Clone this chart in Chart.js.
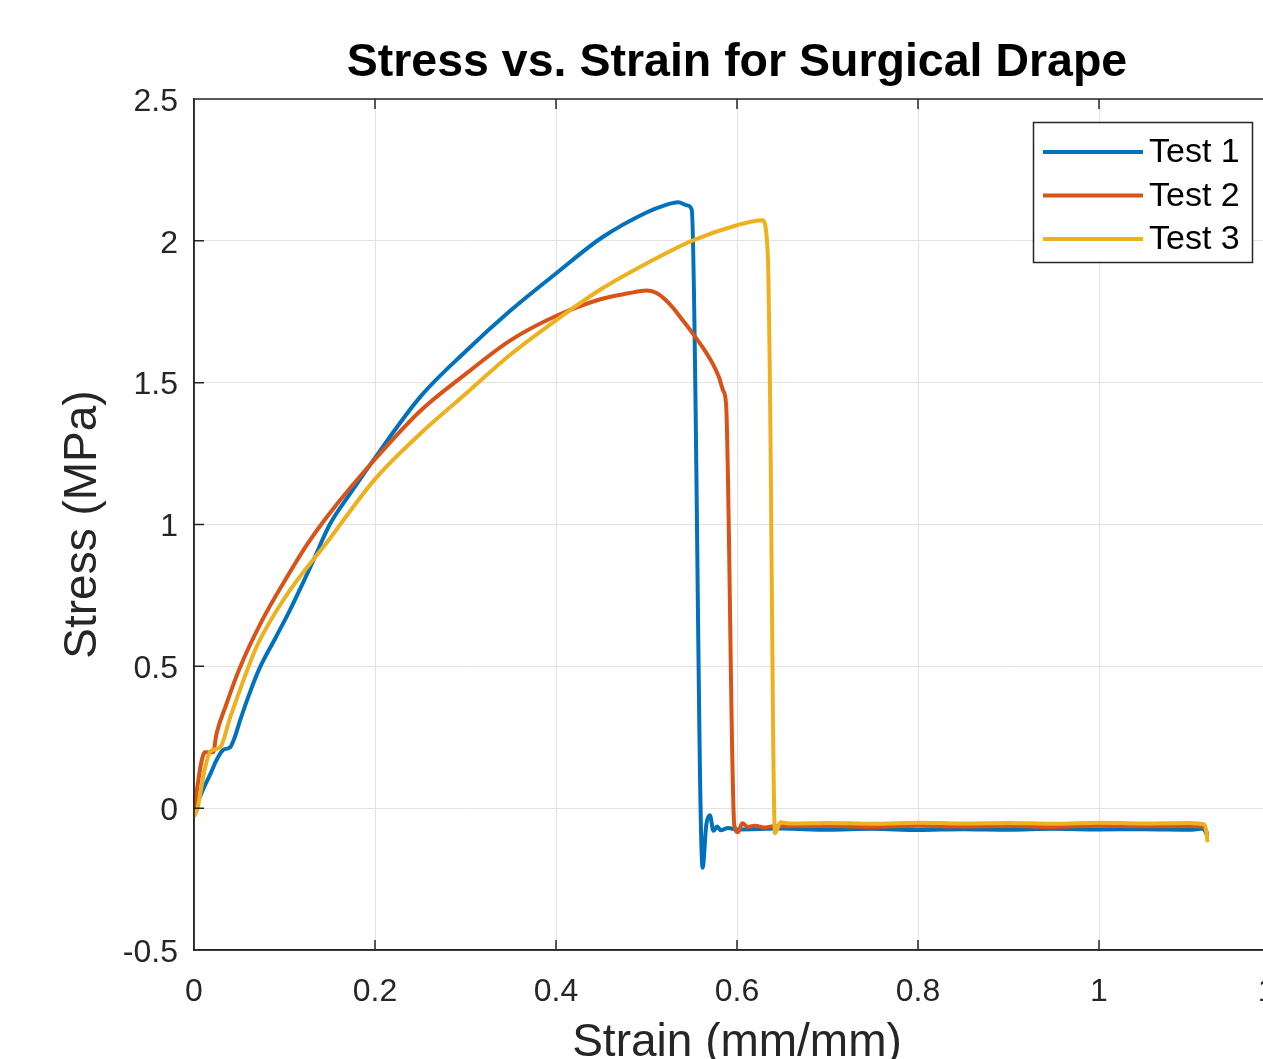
<!DOCTYPE html>
<html>
<head>
<meta charset="utf-8">
<title>Stress vs. Strain for Surgical Drape</title>
<script src="https://cdn.jsdelivr.net/npm/chart.js@4.4.1/dist/chart.umd.min.js"></script>
<style>
  html, body { margin: 0; padding: 0; background: #fff; overflow: hidden; }
  #wrap { width: 1321px; height: 1080px; }
</style>
</head>
<body>
<div id="wrap"><canvas id="stressChart" width="1321" height="1080"></canvas></div>
<script>
// values
const chartTitle = 'Stress vs. Strain for Surgical Drape';
const seriesNames = ['Test 1', 'Test 2', 'Test 3'];
const seriesColors = ['#0072BD', '#D95319', '#EDB120'];

const xTicks = [0, 0.2, 0.4, 0.6, 0.8, 1, 1.2];
const yTicks = [-0.5, 0, 0.5, 1, 1.5, 2, 2.5];

const test1Strain = [0, 0.005, 0.012, 0.018, 0.025, 0.032, 0.04, 0.045, 0.051, 0.062, 0.073, 0.09, 0.106, 0.13, 0.15, 0.175, 0.2, 0.25, 0.3, 0.35, 0.4, 0.45, 0.5, 0.52, 0.535, 0.545, 0.55, 0.562, 0.566, 0.57, 0.574, 0.578, 0.582, 0.59, 0.6, 0.65, 0.7, 0.75, 0.8, 0.85, 0.9, 0.95, 1.0, 1.05, 1.1, 1.115, 1.12];
const test1Stress = [0, 0.03, 0.08, 0.12, 0.17, 0.205, 0.215, 0.25, 0.31, 0.41, 0.497, 0.6, 0.698, 0.86, 1.0, 1.12, 1.235, 1.45, 1.61, 1.755, 1.885, 2.01, 2.1, 2.125, 2.136, 2.125, 2.11, -0.21, -0.06, -0.025, -0.08, -0.065, -0.078, -0.07, -0.075, -0.072, -0.076, -0.073, -0.077, -0.074, -0.076, -0.073, -0.075, -0.074, -0.076, -0.072, -0.1];

const test2Strain = [0, 0.003, 0.008, 0.012, 0.021, 0.025, 0.035, 0.05, 0.075, 0.1, 0.125, 0.15, 0.2, 0.25, 0.3, 0.35, 0.4, 0.45, 0.48, 0.5, 0.51, 0.52, 0.529, 0.54, 0.551, 0.563, 0.573, 0.58, 0.585, 0.588, 0.597, 0.601, 0.606, 0.612, 0.62, 0.63, 0.64, 0.7, 0.75, 0.8, 0.85, 0.9, 0.95, 1.0, 1.05, 1.1, 1.115, 1.12];
const test2Stress = [0, 0.06, 0.16, 0.197, 0.197, 0.264, 0.36, 0.49, 0.66, 0.8, 0.93, 1.04, 1.23, 1.4, 1.53, 1.65, 1.735, 1.795, 1.815, 1.825, 1.818, 1.795, 1.765, 1.72, 1.674, 1.62, 1.568, 1.52, 1.47, 1.42, -0.06, -0.085, -0.053, -0.066, -0.062, -0.068, -0.064, -0.063, -0.066, -0.062, -0.065, -0.063, -0.066, -0.062, -0.064, -0.063, -0.065, -0.09];

const test3Strain = [0, 0.004, 0.007, 0.012, 0.018, 0.029, 0.04, 0.06, 0.07, 0.1, 0.15, 0.2, 0.25, 0.3, 0.35, 0.4, 0.45, 0.5, 0.55, 0.6, 0.628, 0.634, 0.636, 0.642, 0.648, 0.66, 0.7, 0.75, 0.8, 0.85, 0.9, 0.95, 1.0, 1.05, 1.1, 1.117, 1.12];
const test3Stress = [-0.03, 0.0, 0.053, 0.14, 0.2, 0.215, 0.32, 0.497, 0.575, 0.74, 0.95, 1.16, 1.32, 1.46, 1.6, 1.72, 1.83, 1.92, 2.0, 2.055, 2.073, 1.956, 1.6, -0.088, -0.05, -0.054, -0.052, -0.055, -0.051, -0.054, -0.052, -0.055, -0.051, -0.054, -0.052, -0.058, -0.12];

const strains = [test1Strain, test2Strain, test3Strain];
const stresses = [test1Stress, test2Stress, test3Stress];

const FONT = '"Liberation Sans", Arial, Helvetica, sans-serif';
const AXIS_COLOR = '#262626';

// MATLAB style box: top/right edges and inward tick marks
const boxPlugin = {
  id: 'matlabBox',
  afterDatasetsDraw(chart) {
    const { ctx, chartArea: a, scales } = chart;
    const tl = 10;
    ctx.save();
    ctx.strokeStyle = AXIS_COLOR;
    ctx.lineWidth = 1.5;
    ctx.beginPath();
    ctx.rect(a.left, a.top, a.right - a.left, a.bottom - a.top);
    scales.x.ticks.forEach(t => {
      const px = scales.x.getPixelForValue(t.value);
      ctx.moveTo(px, a.bottom); ctx.lineTo(px, a.bottom - tl);
      ctx.moveTo(px, a.top); ctx.lineTo(px, a.top + tl);
    });
    scales.y.ticks.forEach(t => {
      const py = scales.y.getPixelForValue(t.value);
      ctx.moveTo(a.left, py); ctx.lineTo(a.left + tl, py);
      ctx.moveTo(a.right, py); ctx.lineTo(a.right - tl, py);
    });
    ctx.stroke();
    ctx.restore();
  },
  afterDraw(chart) {
    const { ctx, chartArea: a } = chart;
    ctx.save();
    // title centred over the axes
    ctx.fillStyle = '#000';
    ctx.font = 'bold 46.5px ' + FONT;
    ctx.textAlign = 'center';
    ctx.textBaseline = 'middle';
    ctx.fillText(chartTitle, (a.left + a.right) / 2, 63);

    // legend inside the axes, north-east
    const bx = 1033.5, by = 122.5, bw = 219, bh = 140;
    ctx.fillStyle = '#fff';
    ctx.fillRect(bx, by, bw, bh);
    ctx.strokeStyle = AXIS_COLOR;
    ctx.lineWidth = 1.5;
    ctx.strokeRect(bx, by, bw, bh);
    ctx.font = '34px ' + FONT;
    ctx.textAlign = 'left';
    chart.data.datasets.forEach((ds, i) => {
      const y = 152 + i * 43.5;
      ctx.strokeStyle = ds.borderColor;
      ctx.lineWidth = 4;
      ctx.beginPath();
      ctx.moveTo(1043, y); ctx.lineTo(1143, y);
      ctx.stroke();
      ctx.fillStyle = '#000';
      ctx.fillText(ds.label, 1149, y + 1);
    });
    ctx.restore();
  }
};

const datasets = seriesNames.map((name, i) => ({
  label: name,
  data: strains[i].map((x, j) => ({ x: x, y: stresses[i][j] })),
  borderColor: seriesColors[i],
  backgroundColor: seriesColors[i],
  borderWidth: 4,
  pointRadius: 0,
  cubicInterpolationMode: 'monotone',
  fill: false,
  order: 3 - i
}));

const ctx = document.getElementById('stressChart').getContext('2d');
new Chart(ctx, {
  type: 'line',
  data: { datasets: datasets },
  options: {
    responsive: false,
    animation: false,
    layout: { padding: { top: 99, left: 0, right: 41, bottom: 0 } },
    plugins: {
      legend: { display: false },
      title: { display: false },
      tooltip: { enabled: false }
    },
    scales: {
      x: {
        type: 'linear',
        min: 0,
        max: 1.2,
        afterBuildTicks: (scale) => { scale.ticks = xTicks.map(v => ({ value: v })); },
        afterFit: (scale) => {
          scale.height = 130;
          scale.paddingLeft = 0;
          scale.paddingRight = 0;
        },
        grid: { color: '#e3e3e3', lineWidth: 1, drawTicks: false },
        border: { display: true, color: AXIS_COLOR, width: 1.5 },
        ticks: {
          padding: 23,
          color: AXIS_COLOR,
          font: { family: FONT, size: 32 },
          maxRotation: 0,
          callback: (v) => String(v)
        },
        title: {
          display: true,
          text: 'Strain (mm/mm)',
          color: AXIS_COLOR,
          font: { family: FONT, size: 46 },
          padding: { top: 0, bottom: 9 }
        }
      },
      y: {
        type: 'linear',
        min: -0.5,
        max: 2.5,
        afterBuildTicks: (scale) => { scale.ticks = yTicks.map(v => ({ value: v })); },
        afterFit: (scale) => {
          scale.width = 194;
          scale.paddingTop = 0;
          scale.paddingBottom = 0;
        },
        grid: { color: '#e3e3e3', lineWidth: 1, drawTicks: false },
        border: { display: true, color: AXIS_COLOR, width: 1.5 },
        ticks: {
          padding: 16,
          labelOffset: 3,
          color: AXIS_COLOR,
          font: { family: FONT, size: 32 },
          callback: (v) => String(v)
        },
        title: {
          display: true,
          text: 'Stress (MPa)',
          color: AXIS_COLOR,
          font: { family: FONT, size: 46 },
          padding: { top: 56, bottom: 0 }
        }
      }
    }
  },
  plugins: [boxPlugin]
});
</script>
</body>
</html>
